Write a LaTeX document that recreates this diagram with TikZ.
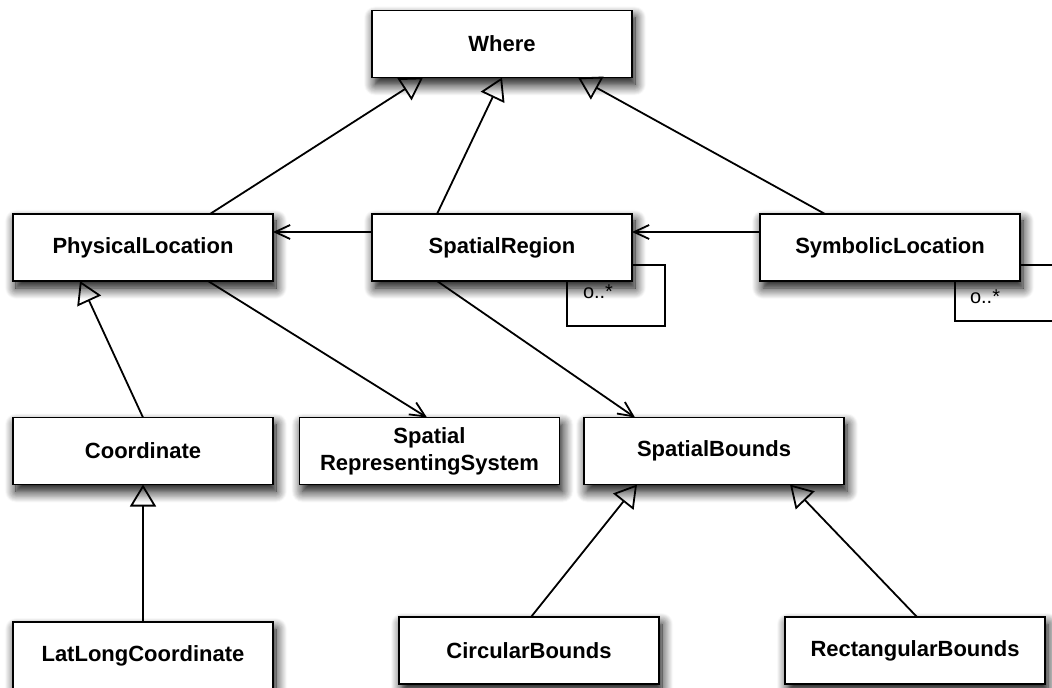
\documentclass[tikz,border=0pt]{standalone}
\usepackage{fontspec}
\setmainfont{Liberation Sans}
\usetikzlibrary{arrows.meta,shadows.blur}

\begin{document}
\begin{tikzpicture}[x=0.5pt,y=-0.5pt,
        cls/.style={draw,line width=0.9pt,fill=white,minimum width=130pt,minimum height=33.5pt,
            inner sep=0pt,outer sep=0pt,align=center,font=\fontsize{11}{13.5}\selectfont\bfseries,
            blur shadow={shadow xshift=1.5pt,shadow yshift=-3.5pt,shadow blur radius=5.5pt,
                shadow blur steps=12,shadow opacity=100}},
        gen/.style={line width=0.9pt,-{Triangle[open,length=11pt,width=13pt]}},
        assoc/.style={line width=0.9pt,-{Straight Barb[length=7.5pt,width=7pt]}},
        mult/.style={font=\fontsize{10}{12}\selectfont,inner sep=1pt}]
                \useasboundingbox (0,0) rectangle (1052,688);

                \node[cls] (where) at (502,44) {Where};
                \node[cls] (phys) at (143,247.5) {PhysicalLocation};
                \node[cls] (region) at (502,247.5) {SpatialRegion};
                \node[cls] (symb) at (890,247.5) {SymbolicLocation};
                \node[cls] (coord) at (143,451) {Coordinate};
                \node[cls] (srs) at (429.5,451) {Spatial\\RepresentingSystem};
                \node[cls] (bounds) at (714,451) {SpatialBounds};
                \node[cls] (latlong) at (143,655.5) {LatLongCoordinate};
                \node[cls] (circ) at (529,650.5) {CircularBounds};
                \node[cls] (rect) at (915,650.5) {RectangularBounds};

                \node[mult] (regionmult) at (598,292) {o..*};
                \node[mult] (symbmult) at (985,297) {o..*};

                \draw[gen] (210,0 |- phys.north) to (423,0 |- where.south);
                \draw[gen] (437,0 |- region.north) to (where.south);
                \draw[gen] (825,0 |- symb.north) to (578,0 |- where.south);
                \draw[gen] (coord.north) to (80,0 |- phys.south);
                \draw[gen] (latlong.north) to (coord.south);
                \draw[gen] (531,0 |- circ.north) to (637,0 |- bounds.south);
                \draw[gen] (917,0 |- rect.north) to (790,0 |- bounds.south);

                \draw[assoc] (region.west |- 0,232) to (phys.east |- 0,232);
                \draw[assoc] (symb.west |- 0,232) to (region.east |- 0,232);
                \draw[assoc] (208,0 |- phys.south) to (427,0 |- srs.north);
                \draw[assoc] (437,0 |- region.south) to (635,0 |- bounds.north);

                \draw[line width=0.9pt] (region.east |- 0,265) -- (665,265) -- (665,326) -- (567,326) -- (567,0 |- region.south);
                \draw[line width=0.9pt] (symb.east |- 0,265) -- (1070,265) -- (1070,321) -- (955,321) -- (955,0 |- symb.south);
            \end{tikzpicture}
\end{document}
